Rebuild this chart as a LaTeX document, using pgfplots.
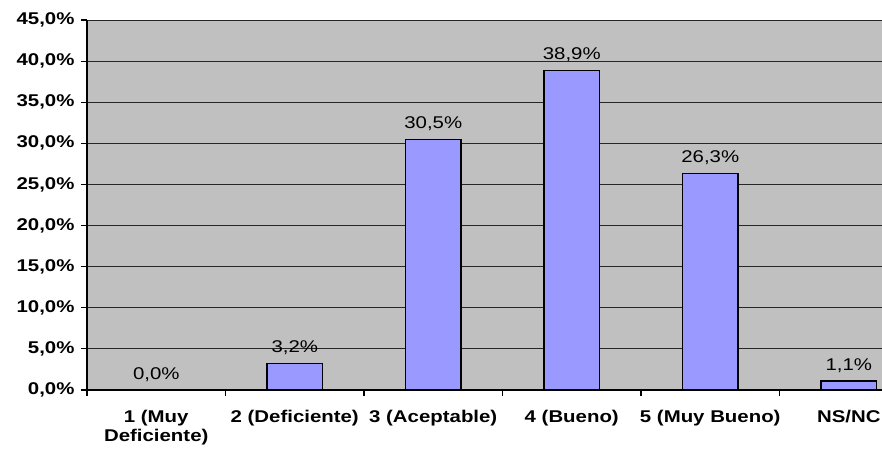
\documentclass[border=0pt]{standalone}
\usepackage{pgfplots}
\pgfplotsset{compat=1.18}
\usepackage{fontspec}
\setmainfont{Liberation Sans}[FakeStretch=1.2]
\definecolor{bgc}{HTML}{C0C0C0}
\definecolor{barc}{HTML}{9999FF}
\begin{document}
\begin{tikzpicture}
\begin{axis}[
  name=ax,
  at={(0,0)}, anchor=south west,
  scale only axis,
  width=795bp, height=370bp,
  xmin=-0.5, xmax=5.24,
  ymin=0, ymax=45,
  axis x line=bottom, axis y line=left,
  axis line style={black, line width=1.4bp, -},
  axis background/.style={fill=bgc},
  ybar, bar width=0.4,
  xtick={0,1,2,3,4,5},
  xticklabels={{1 (Muy\\Deficiente)},{2 (Deficiente)},{3 (Aceptable)},{4 (Bueno)},{5 (Muy Bueno)},{NS/NC}},
  minor xtick={-0.5,0.5,1.5,2.5,3.5,4.5},
  ytick={0,5,...,45},
  tick align=outside,
  major x tick style={draw=none},
  minor x tick style={black, line width=1.2bp},
  minor tick length=6bp,
  major tick length=6bp,
  y tick style={black, line width=1.2bp},
  ymajorgrids,
  grid style={black!85, line width=0.9bp},
  /pgf/number format/assume math mode=true,
  yticklabel={\pgfmathprintnumber[fixed,fixed zerofill,precision=1,use comma]{\tick}\%},
  ticklabel style={font=\fontsize{17bp}{19bp}\selectfont\bfseries},
  xticklabel style={align=center, yshift=-11bp},
  yticklabel style={xshift=-3bp},
  nodes near coords={\pgfmathprintnumber[fixed,fixed zerofill,precision=1,use comma]{\pgfplotspointmeta}\%},
  every node near coord/.append style={font=\fontsize{17bp}{19bp}\selectfont, black, anchor=south, inner sep=0pt, yshift=8bp},
  clip=true,
]
\addplot[fill=barc, draw=black, line width=1.2bp] coordinates {
  (0,0.0) (1,3.2) (2,30.5) (3,38.9) (4,26.3) (5,1.1)
};
\end{axis}
\pgfresetboundingbox
\path[use as bounding box] (-87bp,-60bp) rectangle (795bp,390bp);
\end{tikzpicture}
\end{document}
